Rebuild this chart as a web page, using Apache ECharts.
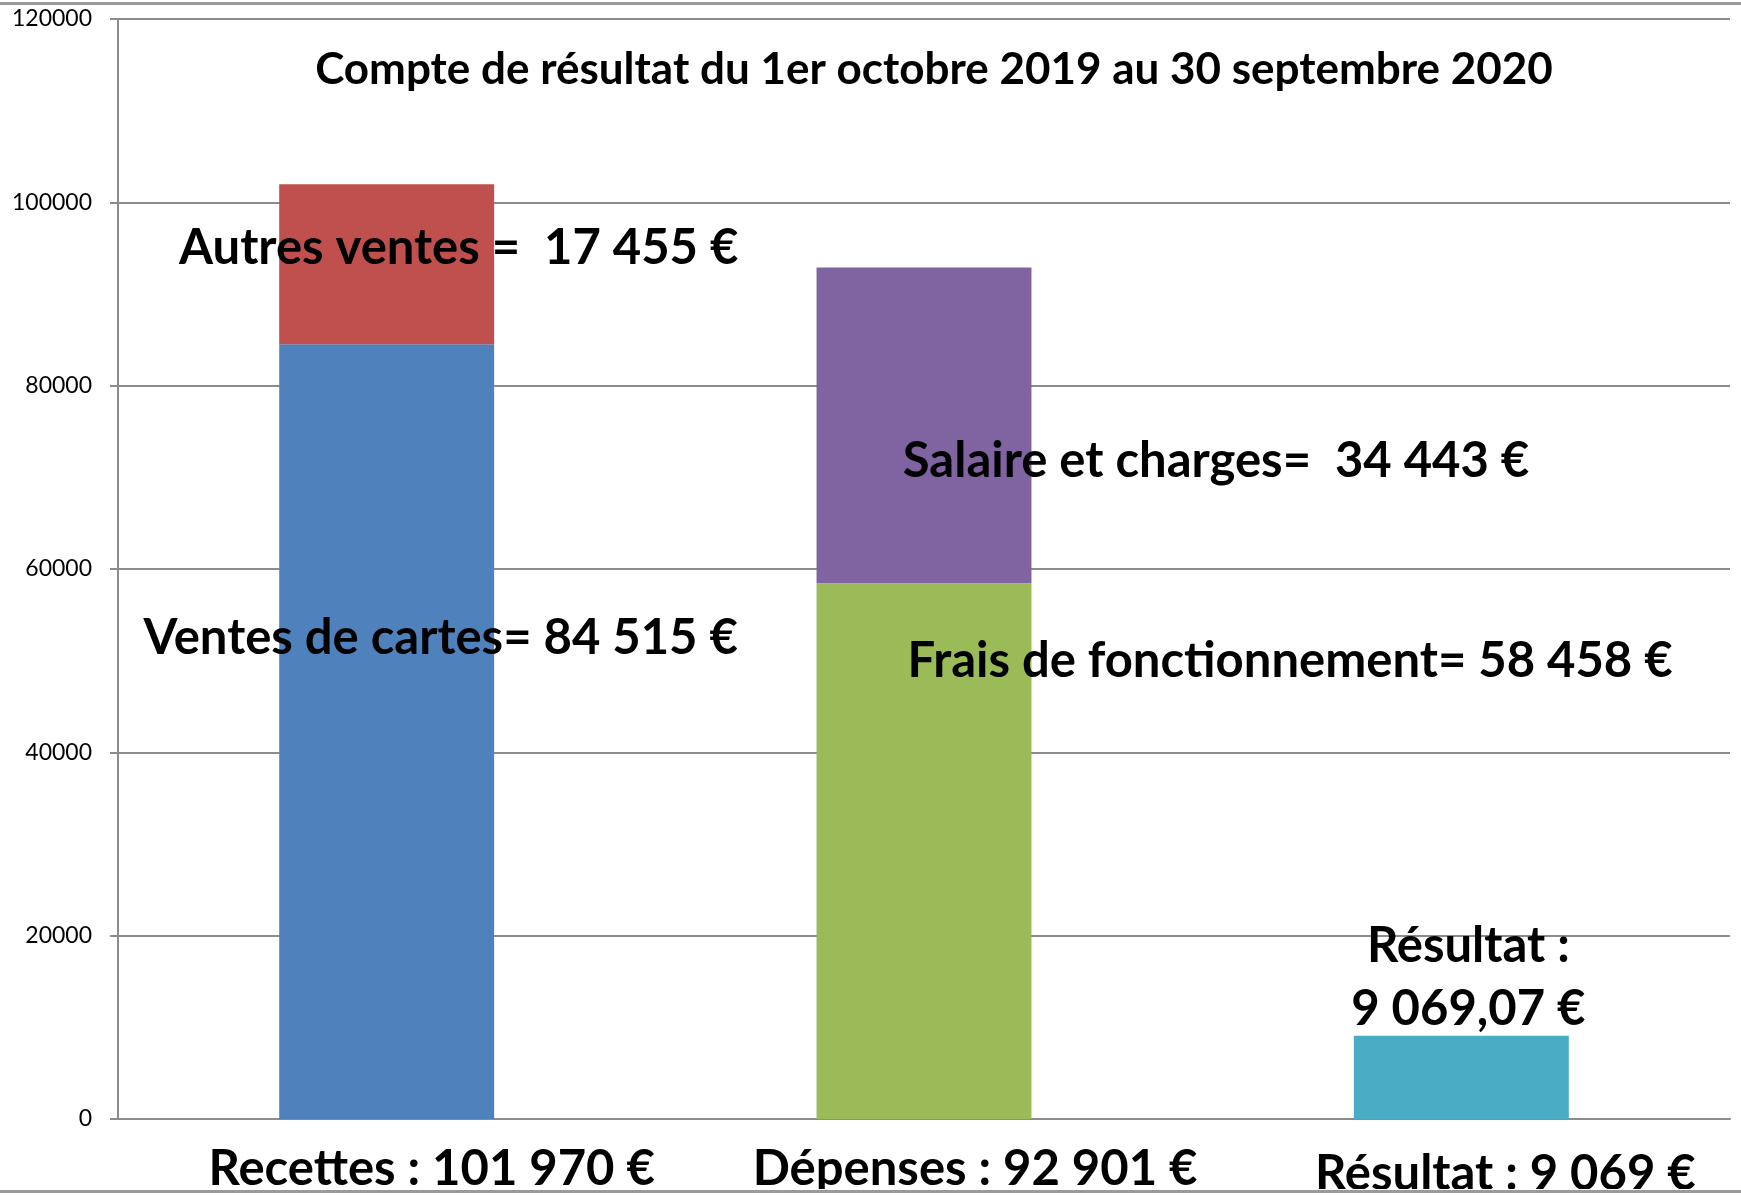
<!DOCTYPE html>
<html>
<head>
<meta charset="utf-8">
<script src="https://cdn.jsdelivr.net/npm/echarts@6/dist/echarts.min.js"></script>
<style>
html, body { margin: 0; padding: 0; background: #fff; }
#chart { position: absolute; left: 0; top: 0; width: 1741px; height: 1189px; }
#bottomLine { position: absolute; left: 0; top: 1190px; width: 1741px; height: 3px; background: #9a9a9a; }
</style>
</head>
<body>
<div id="chart"></div>
<div id="bottomLine"></div>
<script>
// categories and values
const categories = ['Recettes : 101 970 €', 'Dépenses : 92 901 €', 'Résultat : 9 069 €'];
const ventesCartes = [84515, null, null];
const autresVentes = [17455, null, null];
const fraisFonct = [null, 58458, null];
const salaires = [null, 34443, null];
const resultat = [null, null, 9069.07];
const yTicks = [0, 20000, 40000, 60000, 80000, 100000, 120000];

const titleText = 'Compte de résultat du 1er octobre 2019 au 30 septembre 2020';
const font = 'Lato';

const chart = echarts.init(document.getElementById('chart'));

function barLabel(text, offset) {
    return {
        show: true,
        position: 'inside',
        offset: offset,
        formatter: text,
        color: '#000',
        fontFamily: font,
        fontWeight: 'bold',
        fontSize: 49,
        lineHeight: 63
    };
}

function catStyle(pad) {
    return {
        fontFamily: font, fontWeight: 'bold', fontSize: 49, color: '#000',
        lineHeight: 48, padding: pad
    };
}

const option = {
    animation: false,
    backgroundColor: '#fff',
    title: {
        text: titleText,
        left: 929,
        textAlign: 'center',
        top: 43,
        textStyle: {
            fontFamily: font,
            fontWeight: 'bold',
            fontSize: 44,
            color: '#000'
        }
    },
    graphic: [{
        type: 'rect',
        shape: { x: 0, y: 2, width: 1741, height: 3 },
        style: { fill: '#9a9a9a' }
    }],
    grid: {
        left: 118,
        right: 11,
        top: 19,
        bottom: 70,
        containLabel: false,
        outerBoundsMode: 'none'
    },
    xAxis: {
        type: 'category',
        data: categories,
        axisTick: { show: false },
        axisLine: { lineStyle: { color: '#8c8c8c', width: 2 } },
        axisLabel: {
            interval: 0,
            margin: 26,
            formatter: function (v, i) {
                return '{c' + i + '|' + v + '}';
            },
            rich: {
                c0: catStyle([0, 0, 0, 90]),
                c1: catStyle([0, 0, 0, 102]),
                c2: catStyle([10, 0, 0, 88])
            }
        }
    },
    yAxis: {
        type: 'value',
        min: yTicks[0],
        max: yTicks[yTicks.length - 1],
        interval: 20000,
        axisLine: { show: true, lineStyle: { color: '#8c8c8c', width: 2 } },
        axisTick: { show: true, length: 8, lineStyle: { color: '#8c8c8c', width: 2 } },
        splitLine: { lineStyle: { color: '#8c8c8c', width: 2 } },
        axisLabel: {
            margin: 26,
            formatter: function (v) { return String(v); },
            fontFamily: font,
            fontSize: 23,
            color: '#000'
        }
    },
    series: [
        {
            name: 'Ventes de cartes', type: 'bar', stack: 'total', barWidth: '40%',
            itemStyle: { color: '#4F81BD' },
            label: barLabel('Ventes de cartes= 84 515 €', [54, -93]),
            data: ventesCartes
        },
        {
            name: 'Autres ventes', type: 'bar', stack: 'total',
            itemStyle: { color: '#C0504D' },
            label: barLabel('Autres ventes =  17 455 €', [72, -16]),
            data: autresVentes
        },
        {
            name: 'Frais de fonctionnement', type: 'bar', stack: 'total',
            itemStyle: { color: '#9BBB59' },
            label: barLabel('Frais de fonctionnement= 58 458 €', [366, -190]),
            data: fraisFonct
        },
        {
            name: 'Salaire et charges', type: 'bar', stack: 'total',
            itemStyle: { color: '#8064A2' },
            label: barLabel('Salaire et charges=  34 443 €', [292, 36]),
            data: salaires
        },
        {
            name: 'Résultat', type: 'bar', stack: 'total',
            itemStyle: { color: '#4BACC6' },
            label: barLabel('Résultat :\n9 069,07 €', [7, -100]),
            data: resultat
        }
    ]
};

chart.setOption(option);
</script>
</body>
</html>
